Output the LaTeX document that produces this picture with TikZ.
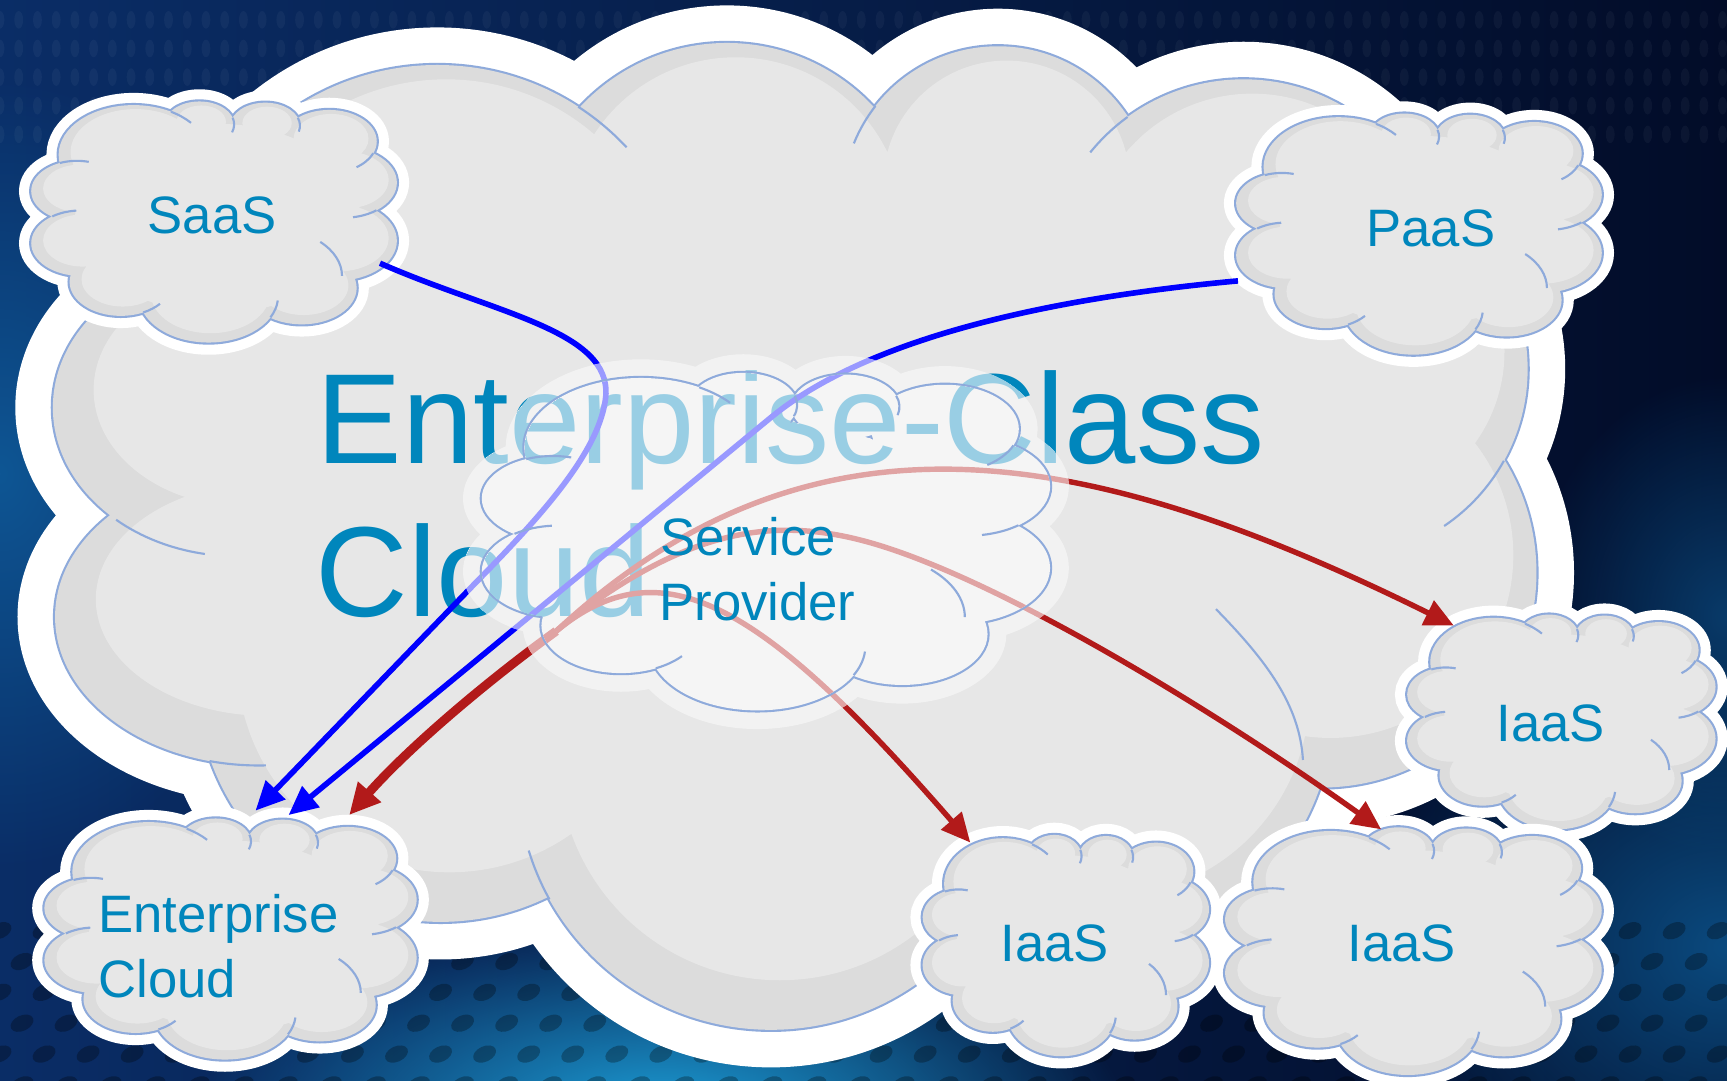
\documentclass[tikz,border=0pt]{standalone}
\usepackage{fontspec}
\setmainfont{Liberation Sans}
\usetikzlibrary{arrows.meta,fadings}

\definecolor{bgleft}{HTML}{0A2D66}
\definecolor{bgright}{HTML}{020C28}
\definecolor{glowleft}{HTML}{0E5694}
\definecolor{glowbottom}{HTML}{1C9DD6}
\definecolor{glowright}{HTML}{0D5A95}
\definecolor{cloudline}{HTML}{8EAADB}
\definecolor{clouddark}{HTML}{DCDCDC}
\definecolor{cloudlight}{HTML}{E7E7E7}
\definecolor{sphalo}{HTML}{F2F2F2}
\definecolor{spfill}{HTML}{F5F5F5}
\definecolor{labelblue}{HTML}{0086BC}
\definecolor{labellight}{HTML}{99CEE4}
\definecolor{arrowblue}{HTML}{0000FF}
\definecolor{arrowbluelight}{HTML}{9999FF}
\definecolor{arrowred}{HTML}{B21A1A}
\definecolor{arrowredlight}{HTML}{E0A3A3}

\tikzfading[name=glowfade, inner color=transparent!0, outer color=transparent!100]

% bumps of a small cloud in its unit frame: centre x / centre y / radius
\def\bumplist{-0.45/-0.55/0.41, -0.09/-0.80/0.19, 0.27/-0.79/0.19, 0.62/-0.66/0.26,
  0.70/-0.32/0.29, 0.66/0.16/0.33, 0.47/0.55/0.30, -0.04/0.62/0.38,
  -0.52/0.50/0.28, -0.74/0.18/0.27, -0.76/-0.25/0.25}
% short inner curves of a small cloud: centre x / centre y / radius / from / to
\def\arclist{-0.76/-0.25/0.25/-112/-75, -0.74/0.18/0.27/-125/-95,
  -0.45/-0.55/0.41/-60/-40, -0.09/-0.80/0.19/-17/20, 0.27/-0.79/0.19/-20/15,
  0.62/-0.66/0.26/22/55, 0.70/-0.32/0.29/52/80, 0.30/0.45/0.39/-46/0,
  -0.04/0.62/0.38/27/5, -0.52/0.50/0.28/64/40}
% bumps of the large cloud: centre x / centre y / x radius / y radius
\def\bigbumps{397/294/235/235, 660/221/182/182, 906/183/141/141, 1129/251/179/179,
  1215/335/172/172, 1200/520/195/195, 995/645/215/215, 700/705/230/230,
  400/615/222/222, 235/560/185/135, 215/370/167/135}

\tikzset{
  innerline/.style={draw=cloudline, line width=0.55pt},
  lbl/.style={font=\fontsize{13.6pt}{16pt}\selectfont, text=labelblue, inner sep=0pt, anchor=base},
  lblleft/.style={lbl, anchor=base west},
  titlefont/.style={font=\fontsize{33.1pt}{39pt}\selectfont, inner sep=0pt, anchor=base west},
  bluearrow/.style={line width=1.45pt, -{Triangle[length=7.5pt,width=6.8pt]}},
  redarrow/.style={line width=1.4pt, -{Triangle[length=7.5pt,width=6.8pt]}},
  redtrunk/.style={line width=2.3pt, -{Triangle[length=8pt,width=7.5pt]}},
}

% a small cloud: centre x, centre y, half width, half height
\newcommand\cloudbody[4]{%
  \begin{scope}[shift={(#1,#2)}, xscale=#3, yscale=#4]
    \draw[white, line width=6.3pt] \foreach \u/\v/\r in \bumplist {(\u,\v) circle[radius=\r]};
    \draw[cloudline, line width=1.1pt] \foreach \u/\v/\r in \bumplist {(\u,\v) circle[radius=\r]};
    \fill[clouddark] \foreach \u/\v/\r in \bumplist {(\u,\v) circle[radius=\r]};
    \fill[clouddark] (0,0) circle[radius=0.7];
    \fill[cloudlight] \foreach \u/\v/\r in \bumplist {(\u+0.01,\v-0.022) circle[radius=\r-0.055]};
    \fill[cloudlight] (0.01,-0.025) circle[radius=0.78];
    \foreach \u/\v/\r/\a/\b in \arclist
      {\draw[innerline] (\u,\v) ++(\a:\r) arc[start angle=\a, end angle=\b, radius=\r];}
  \end{scope}}

% the large title, in a given colour
\newcommand\titletext[2]{%
  \node[titlefont, text=#1] (title-top#2) at (287,421) {Enterprise-Class};
  \node[titlefont, text=#1] (title-bottom#2) at (286,560) {Cloud};}

% all connectors, in a given blue and red
\newcommand\arrowset[2]{%
  \draw[bluearrow, draw=#1] (saas-out) .. controls (450,285) and (555,300) .. (550,360)
     .. controls (545,410) and (490,470) .. (430,531) -- (ec-in-a);
  \draw[bluearrow, draw=#1] (paas-out) .. controls (960,270) and (790,305) .. (700,379) -- (ec-in-b);
  \draw[redtrunk, draw=#2] (sp-hub) .. controls (440,620) and (370,680) .. (ec-in-c);
  \draw[redarrow, draw=#2] (sp-hub) .. controls (740,355) and (990,405) .. (iaas-r-in);
  \draw[redarrow, draw=#2] (sp-hub) .. controls (600,495) and (690,545) .. (iaas-m-in);
  \draw[redarrow, draw=#2] (sp-hub) .. controls (620,480) and (700,470) .. (780,490)
     .. controls (900,520) and (1110,650) .. (iaas-b-in);}

\begin{document}
\begin{tikzpicture}[x=0.01cm, y=-0.01cm]
\useasboundingbox (0,0) rectangle (1568,981);
\clip (0,0) rectangle (1568,981);

% ---------- backdrop ----------
\shade[left color=bgleft, right color=bgright] (0,0) rectangle (1568,981);
\fill[glowleft, path fading=glowfade] (0,430) ellipse[x radius=260, y radius=360];
\fill[glowright, path fading=glowfade, fill opacity=0.8] (1568,860) ellipse[x radius=330, y radius=280];
\fill[glowright, path fading=glowfade, fill opacity=0.6] (1568,560) ellipse[x radius=180, y radius=220];
\fill[glowbottom, path fading=glowfade] (600,1010) ellipse[x radius=420, y radius=170];
\foreach \row in {0,...,5} {
  \foreach \col in {0,...,40} {
    \pgfmathsetmacro\dx{\col*40+mod(\row,2)*20}
    \pgfmathsetmacro\dy{845+\row*28}
    \fill[black, fill opacity=0.28, rotate around={25:(\dx,\dy)}] (\dx,\dy) ellipse[x radius=11, y radius=7];
  }}
\foreach \row in {0,...,4} {
  \foreach \col in {0,...,92} {
    \fill[white, fill opacity=0.04] ({\col*17},{18+\row*26}) ellipse[x radius=4, y radius=8];
  }}

% ---------- large enterprise-class cloud ----------
\draw[white, line width=19.4pt] \foreach \bx/\by/\ba/\bb in \bigbumps {(\bx,\by) ellipse[x radius=\ba, y radius=\bb]};
\draw[cloudline, line width=1.1pt] \foreach \bx/\by/\ba/\bb in \bigbumps {(\bx,\by) ellipse[x radius=\ba, y radius=\bb]};
\fill[clouddark] \foreach \bx/\by/\ba/\bb in \bigbumps {(\bx,\by) ellipse[x radius=\ba, y radius=\bb]};
\fill[clouddark] (397,294) -- (660,221) -- (906,183) -- (1129,251) -- (1215,335) -- (1200,520)
  -- (995,645) -- (700,705) -- (400,615) -- (235,560) -- (215,370) -- cycle;
\fill[cloudlight] \foreach \bx/\by/\ba/\bb in \bigbumps {(\bx+8,\by-16) ellipse[x radius=\ba-29, y radius=\bb-29]};
\fill[cloudlight] (405,278) -- (668,205) -- (914,167) -- (1137,235) -- (1223,319) -- (1208,504)
  -- (1003,629) -- (708,689) -- (408,599) -- (243,544) -- (223,354) -- cycle;
\draw[innerline] (397,294) ++(-57:235) arc[start angle=-57, end angle=-43, radius=235];
\draw[innerline] (906,183) ++(-142:141) arc[start angle=-142, end angle=-158, radius=141];
\draw[innerline] (1129,251) ++(-126:179) arc[start angle=-126, end angle=-141, radius=179];
\draw[innerline] (1215,335) ++(29:172) arc[start angle=29, end angle=56, radius=172];
\draw[innerline] (700,705) ++(151:230) arc[start angle=151, end angle=163, radius=230];
\draw[innerline] (215,370) ++({cos(131)*167},{sin(131)*135}) arc[start angle=131, end angle=100, x radius=167, y radius=135];
\draw[innerline] (235,560) ++({cos(104)*185},{sin(104)*135}) arc[start angle=104, end angle=88, x radius=185, y radius=135];
\draw[innerline] (1104,553) .. controls (1150,600) and (1180,640) .. (1183,690);

\titletext{labelblue}{}

% ---------- small clouds ----------
\cloudbody{196}{201}{166}{110}
\node[lbl] (saas) at (192.5,212) {SaaS};
\cloudbody{1290}{212}{166}{110}
\node[lbl] (paas) at (1299,223.6) {PaaS};
\cloudbody{1419}{655}{140}{98}
\node[lbl] (iaas-r) at (1408,673.4) {IaaS};
\cloudbody{1285}{863}{171}{113}
\node[lbl] (iaas-b) at (1272.6,873) {IaaS};
\cloudbody{969}{858}{130}{101}
\node[lbl] (iaas-m) at (957.5,873) {IaaS};
\cloudbody{211}{852}{169}{110}
\node[lblleft] (ec-line1) at (88.7,847) {Enterprise};
\node[lblleft] (ec-line2) at (88.7,906) {Cloud};

% ---------- connector ends ----------
\coordinate (saas-out) at (345,239);
\coordinate (paas-out) at (1124,255);
\coordinate (ec-in-a) at (232,736);
\coordinate (ec-in-b) at (262,740);
\coordinate (ec-in-c) at (317,740);
\coordinate (sp-hub) at (505,573);
\coordinate (iaas-r-in) at (1320,568);
\coordinate (iaas-m-in) at (881,765);
\coordinate (iaas-b-in) at (1254,753);

\arrowset{arrowblue}{arrowred}

% ---------- service provider cloud (see-through) ----------
\begin{scope}[shift={(698,491)}, xscale=258, yscale=154]
  \fill[sphalo] \foreach \u/\v/\r in \bumplist {(\u,\v) ellipse[x radius=\r+0.066, y radius=\r+0.11]}
    (0,0) circle[radius=0.7];
  \begin{scope}
    \clip \foreach \u/\v/\r in \bumplist {(\u,\v) ellipse[x radius=\r+0.066, y radius=\r+0.11]}
      (0,0) circle[radius=0.7];
    \begin{scope}[reset cm]
      \titletext{labellight}{-halo}
      \arrowset{arrowbluelight}{arrowredlight}
    \end{scope}
  \end{scope}
  \draw[cloudline, line width=1.1pt] \foreach \u/\v/\r in \bumplist {(\u,\v) circle[radius=\r]};
  \fill[spfill] \foreach \u/\v/\r in \bumplist {(\u,\v) circle[radius=\r]} (0,0) circle[radius=0.7];
  \begin{scope}
    \clip \foreach \u/\v/\r in \bumplist {(\u,\v) circle[radius=\r]} (0,0) circle[radius=0.7];
    \begin{scope}[reset cm]
      \titletext{labellight}{-inner}
      \arrowset{arrowbluelight}{arrowredlight}
    \end{scope}
  \end{scope}
  \foreach \u/\v/\r/\a/\b in \arclist
    {\draw[innerline] (\u,\v) ++(\a:\r) arc[start angle=\a, end angle=\b, radius=\r];}
\end{scope}
\node[lblleft] (sp-line1) at (599,504) {Service};
\node[lblleft] (sp-line2) at (598,563) {Provider};
\end{tikzpicture}
\end{document}
